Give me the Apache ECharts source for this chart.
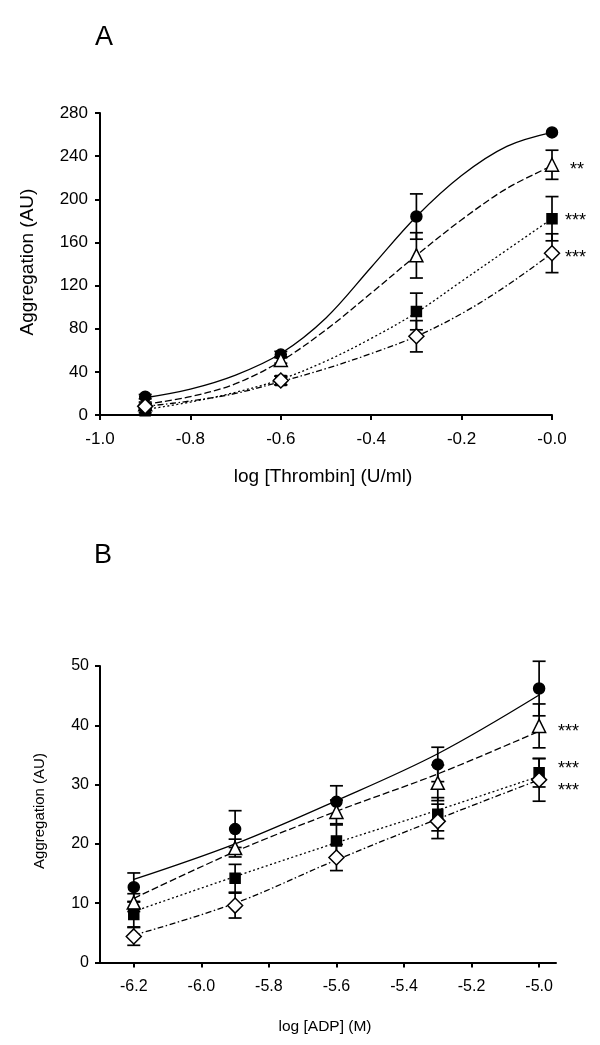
<!DOCTYPE html>
<html><head><meta charset="utf-8">
<script src="https://cdn.jsdelivr.net/npm/echarts@6/dist/echarts.min.js"></script>
<style>html,body{margin:0;padding:0;background:#fff}#c{width:600px;height:1045px}</style>
</head><body><div id="c"></div>
<script>
// ---------- Panel A : thrombin ----------
const thrombinX = [-0.9, -0.6, -0.3, 0.0];
const aCircle = [17, 56, 184, 262];
const aCircleErr = [2, 3, 21, 0];
const aTriangle = [10, 51, 148, 232];
const aTriangleErr = [2, 3, 21, 13.5];
const aSquare = [4, 32, 96, 182];
const aSquareErr = [2, 4, 17, 20.5];
const aDiamond = [8, 32, 73, 150];
const aDiamondErr = [2, 4, 14.5, 18];
// fitted curves
const aCurveX = [-0.9, -0.8, -0.7, -0.6, -0.5, -0.4, -0.3, -0.2, -0.1, 0.0];
const aCircleCurve = [16, 24, 37, 57, 90, 137, 184, 222, 249, 262];
const aTriangleCurve = [10, 17, 29, 50, 79, 113, 148, 181, 210, 231];
const aSquareCurve = [5, 12, 21, 33, 50, 71, 95, 124, 153, 182];
const aDiamondCurve = [8, 13, 20, 31, 43, 57, 73, 94, 120, 150];
const aXTicks = [-1.0, -0.8, -0.6, -0.4, -0.2, 0.0];
const aXTickLabels = ['-1.0', '-0.8', '-0.6', '-0.4', '-0.2', '-0.0'];

// ---------- Panel B : ADP ----------
const adpX = [-6.2, -5.9, -5.6, -5.3, -5.0];
const bCircle = [12.7, 22.5, 27.1, 33.4, 46.2];
const bCircleErr = [2.4, 3.1, 2.7, 2.9, 4.6];
const bTriangle = [10.1, 19.3, 25.4, 30.3, 39.9];
const bTriangleErr = [1.5, 1.5, 2.0, 3.0, 3.7];
const bSquare = [8.1, 14.2, 20.5, 25.0, 32.0];
const bSquareErr = [2.1, 2.35, 2.7, 2.8, 2.4];
const bDiamond = [4.4, 9.6, 17.7, 23.8, 30.8];
const bDiamondErr = [1.5, 2.1, 2.2, 2.9, 3.6];
const bCircleCurve = [14.0, 20.0, 27.3, 35.2, 45.1];
const bTriangleCurve = [10.8, 18.7, 25.5, 31.8, 39.0];
const bSquareCurve = [8.6, 14.5, 20.2, 25.7, 31.4];
const bDiamondCurve = [4.6, 10.0, 17.3, 24.2, 30.8];
const bXTicks = [-6.2, -6.0, -5.8, -5.6, -5.4, -5.2, -5.0];
const bXTickLabels = ['-6.2', '-6.0', '-5.8', '-5.6', '-5.4', '-5.2', '-5.0'];

const FONT = 'Liberation Sans, Arial, sans-serif';
const chart = echarts.init(document.getElementById('c'), null, {renderer: 'canvas'});

function pairs(xs, ys) { return xs.map((x, i) => [x, ys[i]]); }
function errData(xs, ys, es) { return xs.map((x, i) => [x, ys[i] - es[i], ys[i] + es[i]]); }

function errRender(params, api) {
  const x = api.value(0), lo = api.value(1), hi = api.value(2);
  if (hi - lo <= 0) return null;
  const a = api.coord([x, lo]), b = api.coord([x, hi]);
  const w = 6.5;
  const st = {stroke: '#000', lineWidth: 1.7};
  return {type: 'group', children: [
    {type: 'line', shape: {x1: a[0], y1: a[1], x2: b[0], y2: b[1]}, style: st},
    {type: 'line', shape: {x1: a[0] - w, y1: a[1], x2: a[0] + w, y2: a[1]}, style: st},
    {type: 'line', shape: {x1: b[0] - w, y1: b[1], x2: b[0] + w, y2: b[1]}, style: st}
  ]};
}

const lineTypes = ['solid', [7, 3], [2, 2.5], [6, 2.5, 1.5, 2.5]];
const symbols = [
  {symbol: 'circle', size: 11, fill: '#000'},
  {symbol: 'triangle', size: 13, fill: '#fff'},
  {symbol: 'rect', size: 10, fill: '#000'},
  {symbol: 'diamond', size: [15, 15], fill: '#fff'}
];

function makeSeries(gi, xs, curveX, vals, errs, curves) {
  const out = [];
  curves.forEach((c, k) => {
    out.push({type: 'line', xAxisIndex: gi, yAxisIndex: gi, data: pairs(curveX, c),
      smooth: 0.35,
      showSymbol: false, symbol: 'none', silent: true, z: 2,
      lineStyle: {color: '#000', width: 1.3, type: lineTypes[k]}});
  });
  errs.forEach((e, k) => {
    out.push({type: 'custom', xAxisIndex: gi, yAxisIndex: gi, data: errData(xs, vals[k], e),
      renderItem: errRender, encode: {x: 0, y: [1, 2]}, z: 3, silent: true});
  });
  vals.forEach((v, k) => {
    const s = symbols[k];
    out.push({type: 'scatter', xAxisIndex: gi, yAxisIndex: gi, data: pairs(xs, v), symbol: s.symbol,
      symbolSize: s.size, z: 4 + k, silent: true,
      itemStyle: {color: s.fill, borderColor: '#000', borderWidth: 1.5, opacity: 1}});
  });
  return out;
}

function valueAxis(gi, extra) {
  return Object.assign({
    type: 'value', gridIndex: gi, splitLine: {show: false},
    axisLine: {show: true, onZero: false, lineStyle: {color: '#000', width: 2}},
    axisTick: {show: true, inside: false, length: 5, lineStyle: {color: '#000', width: 2}},
    axisLabel: {color: '#000', fontFamily: FONT, fontSize: 15, margin: 8}
  }, extra);
}

const option = {
  animation: false,
  backgroundColor: '#fff',
  grid: [
    {left: 100, top: 113, width: 452, height: 302},
    {left: 100, top: 666, width: 456, height: 296.5}
  ],
  xAxis: [
    valueAxis(0, {min: -1.0, max: 0.0,
      axisTick: {show: true, length: 5, lineStyle: {color: '#000', width: 2}, customValues: aXTicks},
      axisLabel: {color: '#000', fontFamily: FONT, fontSize: 17, margin: 16, customValues: aXTicks,
        formatter: v => aXTickLabels[aXTicks.findIndex(t => Math.abs(t - v) < 1e-6)]}}),
    valueAxis(1, {min: -6.3, max: -4.95,
      axisTick: {show: true, length: 5, lineStyle: {color: '#000', width: 2}, customValues: bXTicks},
      axisLabel: {color: '#000', fontFamily: FONT, fontSize: 16, margin: 16, customValues: bXTicks,
        formatter: v => bXTickLabels[bXTicks.findIndex(t => Math.abs(t - v) < 1e-6)]}})
  ],
  yAxis: [
    valueAxis(0, {min: 0, max: 280, interval: 40,
      axisLabel: {color: '#000', fontFamily: FONT, fontSize: 17, margin: 12}}),
    valueAxis(1, {min: 0, max: 50, interval: 10,
      axisLabel: {color: '#000', fontFamily: FONT, fontSize: 16, margin: 11}})
  ],
  series: [].concat(
    makeSeries(0, thrombinX, aCurveX,
      [aCircle, aTriangle, aSquare, aDiamond],
      [aCircleErr, aTriangleErr, aSquareErr, aDiamondErr],
      [aCircleCurve, aTriangleCurve, aSquareCurve, aDiamondCurve]),
    makeSeries(1, adpX, adpX,
      [bCircle, bTriangle, bSquare, bDiamond],
      [bCircleErr, bTriangleErr, bSquareErr, bDiamondErr],
      [bCircleCurve, bTriangleCurve, bSquareCurve, bDiamondCurve])
  ),
  graphic: [
    {type: 'text', left: 95, top: 24, style: {text: 'A', font: '27px ' + FONT, fill: '#000'}},
    {type: 'text', left: 94, top: 542, style: {text: 'B', font: '27px ' + FONT, fill: '#000'}},
    {type: 'text', x: 323, y: 477, style: {text: 'log [Thrombin] (U/ml)', font: '19px ' + FONT, fill: '#000', align: 'center', verticalAlign: 'middle'}},
    {type: 'text', x: 28, y: 262, rotation: Math.PI / 2, style: {text: 'Aggregation (AU)', font: '19px ' + FONT, fill: '#000', align: 'center', verticalAlign: 'middle'}},
    {type: 'text', x: 325, y: 1027, style: {text: 'log [ADP] (M)', font: '15.5px ' + FONT, fill: '#000', align: 'center', verticalAlign: 'middle'}},
    {type: 'text', x: 40, y: 811, rotation: Math.PI / 2, style: {text: 'Aggregation (AU)', font: '15px ' + FONT, fill: '#000', align: 'center', verticalAlign: 'middle'}},
    {type: 'text', x: 570, y: 170, style: {text: '**', font: '18px ' + FONT, fill: '#000', verticalAlign: 'middle'}},
    {type: 'text', x: 565, y: 221, style: {text: '***', font: '18px ' + FONT, fill: '#000', verticalAlign: 'middle'}},
    {type: 'text', x: 565, y: 258, style: {text: '***', font: '18px ' + FONT, fill: '#000', verticalAlign: 'middle'}},
    {type: 'text', x: 558, y: 732, style: {text: '***', font: '18px ' + FONT, fill: '#000', verticalAlign: 'middle'}},
    {type: 'text', x: 558, y: 769, style: {text: '***', font: '18px ' + FONT, fill: '#000', verticalAlign: 'middle'}},
    {type: 'text', x: 558, y: 791, style: {text: '***', font: '18px ' + FONT, fill: '#000', verticalAlign: 'middle'}}
  ]
};
chart.setOption(option);
</script>
</body></html>
